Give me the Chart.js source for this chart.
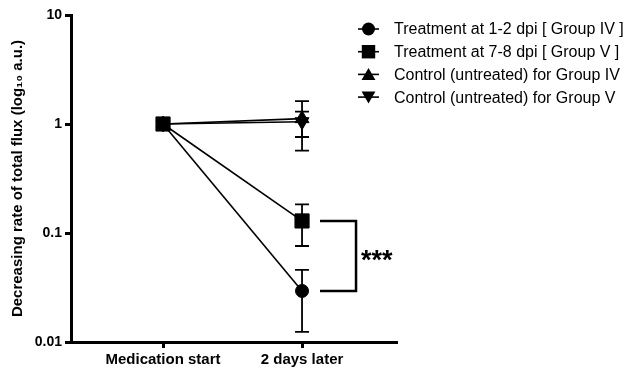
<!DOCTYPE html>
<html>
<head>
<meta charset="utf-8">
<script src="https://cdn.jsdelivr.net/npm/chart.js@4.4.1/dist/chart.umd.min.js"></script>
<style>
  html, body { margin: 0; padding: 0; background: #fff; }
  #wrap { width: 632px; height: 371px; }
</style>
</head>
<body>
<div id="wrap"><canvas id="fluxChart" width="632" height="371"></canvas></div>
<script>
const categories = ['Medication start', '2 days later'];
const yTicks = [0.01, 0.1, 1, 10];

const groupIV = [1, 0.0294];
const groupIVLow = [1, 0.0124];
const groupIVHigh = [1, 0.0458];

const groupV = [1, 0.129];
const groupVLow = [1, 0.076];
const groupVHigh = [1, 0.183];

const controlIV = [1, 1.12];
const controlIVLow = [1, 0.76];
const controlIVHigh = [1, 1.62];

const controlV = [1, 1.05];
const controlVLow = [1, 0.57];
const controlVHigh = [1, 1.30];

const FONT = '"Liberation Sans", Arial, sans-serif';
const toPoints = arr => arr.map((v, i) => ({ x: i, y: v }));

function makeSet(label, values, low, high, style, radius, rotation, order) {
    return {
        label: label,
        data: toPoints(values),
        errLow: low,
        errHigh: high,
        borderColor: '#000',
        backgroundColor: '#000',
        borderWidth: 1.6,
        pointStyle: style,
        pointRadius: radius,
        pointRotation: rotation,
        pointBorderWidth: 1,
        order: order
    };
}

// vertical error bars with caps, plus the significance bracket
const errorBars = {
    id: 'errorBars',
    afterDatasetsDraw(chart) {
        const ctx = chart.ctx;
        const xs = chart.scales.x, ys = chart.scales.y;
        ctx.save();
        ctx.strokeStyle = '#000';
        ctx.lineWidth = 1.8;
        chart.data.datasets.forEach(ds => {
            ds.data.forEach((p, i) => {
                if (ds.errLow[i] === ds.errHigh[i]) return;
                const x = xs.getPixelForValue(p.x);
                const yl = ys.getPixelForValue(ds.errLow[i]);
                const yh = ys.getPixelForValue(ds.errHigh[i]);
                ctx.beginPath();
                ctx.moveTo(x, yl); ctx.lineTo(x, yh);
                ctx.moveTo(x - 7, yl); ctx.lineTo(x + 7, yl);
                ctx.moveTo(x - 7, yh); ctx.lineTo(x + 7, yh);
                ctx.stroke();
            });
        });
        const xb = xs.getPixelForValue(1);
        const ya = ys.getPixelForValue(groupV[1]);
        const yb = ys.getPixelForValue(groupIV[1]);
        ctx.lineWidth = 2.5;
        ctx.beginPath();
        ctx.moveTo(xb + 18, ya);
        ctx.lineTo(xb + 54, ya);
        ctx.lineTo(xb + 54, yb);
        ctx.lineTo(xb + 18, yb);
        ctx.stroke();
        ctx.fillStyle = '#000';
        ctx.font = 'bold 27px ' + FONT;
        ctx.textAlign = 'left';
        ctx.textBaseline = 'middle';
        ctx.fillText('***', xb + 59, (ya + yb) / 2 + 6);
        ctx.restore();
    }
};

function drawMarker(ctx, style, x, y, r, rotation) {
    ctx.beginPath();
    if (style === 'circle') {
        ctx.arc(x, y, r, 0, Math.PI * 2);
    } else if (style === 'rect') {
        const s = r * Math.SQRT1_2;
        ctx.rect(x - s, y - s, 2 * s, 2 * s);
    } else {
        const dir = rotation === 180 ? -1 : 1;
        const h = r * 0.866;
        ctx.moveTo(x, y - dir * r);
        ctx.lineTo(x + h, y + dir * r / 2);
        ctx.lineTo(x - h, y + dir * r / 2);
        ctx.closePath();
    }
    ctx.fill();
}

// legend with a short line through each marker
const sideLegend = {
    id: 'sideLegend',
    afterDraw(chart) {
        const ctx = chart.ctx;
        ctx.save();
        ctx.font = '16px ' + FONT;
        ctx.textBaseline = 'middle';
        ctx.textAlign = 'left';
        ctx.fillStyle = '#000';
        ctx.strokeStyle = '#000';
        chart.data.datasets.forEach((ds, i) => {
            const y = 29 + i * 22.7;
            ctx.lineWidth = 1.6;
            ctx.beginPath();
            ctx.moveTo(358, y); ctx.lineTo(379, y);
            ctx.stroke();
            const r = ds.pointStyle === 'rect' ? 9.5 : (ds.pointStyle === 'circle' ? 6.5 : 8);
            const dy = ds.pointStyle === 'triangle' ? (ds.pointRotation === 180 ? -1.5 : 1.5) : 0;
            drawMarker(ctx, ds.pointStyle, 368.5, y + dy, r, ds.pointRotation);
            ctx.fillText(ds.label, 394, y + 1);
        });
        ctx.restore();
    }
};

const ctx = document.getElementById('fluxChart').getContext('2d');
const fluxChart = new Chart(ctx, {
    type: 'line',
    data: {
        datasets: [
            makeSet('Treatment at 1-2 dpi [ Group IV ]', groupIV, groupIVLow, groupIVHigh, 'circle', 6.5, 0, 1),
            makeSet('Treatment at 7-8 dpi [ Group V ]', groupV, groupVLow, groupVHigh, 'rect', 10, 0, 0),
            makeSet('Control (untreated) for Group IV', controlIV, controlIVLow, controlIVHigh, 'triangle', 8, 0, 2),
            makeSet('Control (untreated) for Group V', controlV, controlVLow, controlVHigh, 'triangle', 8, 180, 3)
        ]
    },
    options: {
        responsive: false,
        animation: false,
        layout: { padding: { left: 0, top: 15, right: 236, bottom: 0 } },
        plugins: {
            legend: { display: false },
            tooltip: { enabled: false }
        },
        scales: {
            x: {
                type: 'linear',
                min: -0.662,
                max: 1.676,
                afterBuildTicks: s => { s.ticks = categories.map((c, i) => ({ value: i })); },
                afterFit: s => { s.height = 29; },
                border: { color: '#000', width: 3 },
                grid: { drawOnChartArea: false, color: '#000', lineWidth: 3, tickLength: 6 },
                ticks: {
                    color: '#000',
                    font: { family: FONT, size: 15, weight: 'bold' },
                    padding: 3,
                    maxRotation: 0,
                    callback: v => categories[v]
                }
            },
            y: {
                type: 'logarithmic',
                min: 0.01,
                max: 10,
                afterBuildTicks: s => { s.ticks = yTicks.map(v => ({ value: v })); },
                afterFit: s => { s.width = 71; },
                border: { color: '#000', width: 3 },
                grid: { drawOnChartArea: false, color: '#000', lineWidth: 3, tickLength: 6 },
                title: {
                    display: true,
                    text: 'Decreasing rate of total flux (log\u2081\u2080 a.u.)',
                    color: '#000',
                    font: { family: FONT, size: 15, weight: 'bold' },
                    padding: { top: 9, bottom: 4 }
                },
                ticks: {
                    color: '#000',
                    font: { family: FONT, size: 14, weight: 'bold' },
                    padding: 3,
                    callback: v => String(v)
                }
            }
        }
    },
    plugins: [errorBars, sideLegend]
});
</script>
</body>
</html>
